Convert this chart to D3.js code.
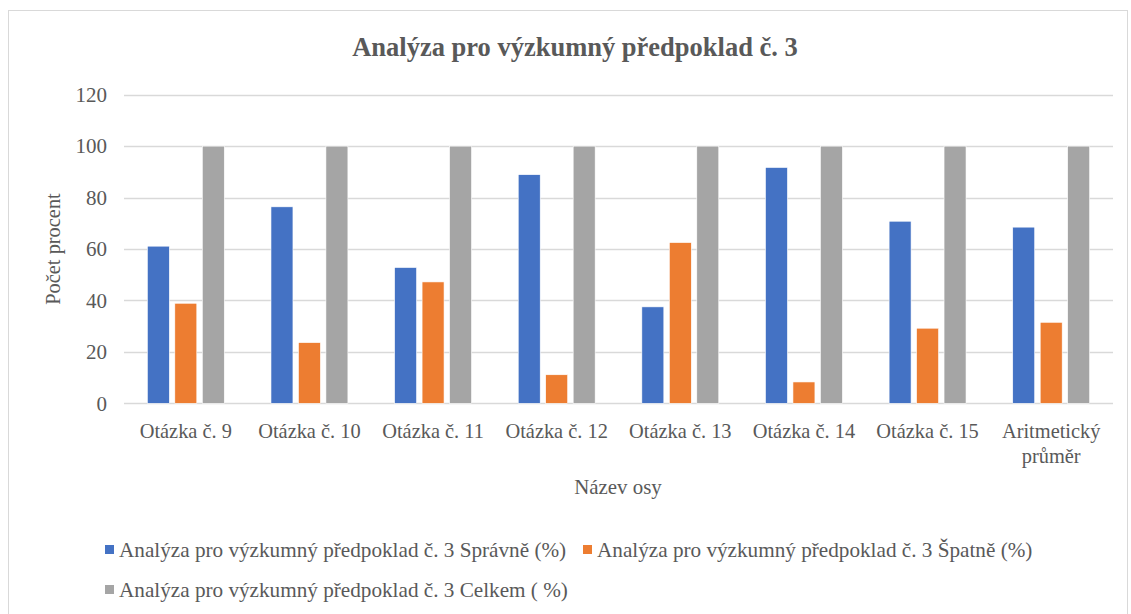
<!DOCTYPE html>
<html><head><meta charset="utf-8">
<script src="https://cdn.jsdelivr.net/npm/d3@7"></script>
<style>body{margin:0;background:#fff;} text{font-family:"Liberation Serif","Times New Roman",serif;fill:#595959;}</style>
</head><body><svg id="c" width="1131" height="614"></svg>
<script>
const categories = ["Otázka č. 9","Otázka č. 10","Otázka č. 11","Otázka č. 12","Otázka č. 13","Otázka č. 14","Otázka č. 15","Aritmetický průměr"];
const seriesNames = ["Analýza pro výzkumný předpoklad č. 3 Správně (%)","Analýza pro výzkumný předpoklad č. 3 Špatně (%)","Analýza pro výzkumný předpoklad č. 3 Celkem ( %)"];
const spravne = [61.1, 76.4, 52.8, 88.9, 37.5, 91.7, 70.8, 68.5];
const spatne = [38.9, 23.6, 47.2, 11.1, 62.5, 8.3, 29.2, 31.5];
const celkem = [100, 100, 100, 100, 100, 100, 100, 100];
const yTicks = [0,20,40,60,80,100,120];
const colors = ["#4472C4","#ED7D31","#A5A5A5"];

const svg = d3.select("#c");
svg.append("rect").attr("x",8.5).attr("y",10.5).attr("width",1119).attr("height",620).attr("fill","#fff").attr("stroke","#d9d9d9");

const L=124, R=1113, T=94.7, B=403.3;
const x = d3.scaleBand().domain(categories).range([L,R]);
const y = d3.scaleLinear().domain([0,120]).range([B,T]);
const seriesData = [spravne, spatne, celkem];
const inner = d3.scaleBand().domain([0,1,2]).range([0, x.bandwidth()]).paddingInner(0.2).paddingOuter(0.85);

svg.append("g").selectAll("line").data(yTicks).join("line")
  .attr("x1",L).attr("x2",R).attr("y1",d=>Math.round(y(d))+0.5).attr("y2",d=>Math.round(y(d))+0.5)
  .attr("stroke","#d9d9d9").attr("stroke-width",1.3);

const yAxis = d3.axisLeft(y).tickValues(yTicks).tickSize(0).tickPadding(17);
const gy = svg.append("g").attr("transform",`translate(${L},0)`).call(yAxis);
gy.select(".domain").remove();
gy.selectAll("text").style("font-family","Liberation Serif").style("font-size","21px").attr("fill","#595959");

seriesData.forEach((vals,si)=>{
  svg.append("g").selectAll("rect").data(vals).join("rect")
    .attr("x",(d,i)=>x(categories[i])+inner(si))
    .attr("width",inner.bandwidth())
    .attr("y",d=>y(d)).attr("height",d=>B-y(d))
    .attr("fill",colors[si]).attr("stroke","#fff").attr("stroke-width",0.6);
});

const xl = svg.append("g");
categories.forEach(c=>{
  const cx = x(c)+x.bandwidth()/2;
  const parts = c==="Aritmetický průměr" ? ["Aritmetický","průměr"] : [c];
  parts.forEach((p,k)=>{
    xl.append("text").attr("x",cx).attr("y",438+k*25).attr("text-anchor","middle").style("font-size","20.4px").text(p);
  });
});

svg.append("text").attr("x",575).attr("y",56).attr("text-anchor","middle").style("font-size","26.5px").style("font-weight","bold").text("Analýza pro výzkumný předpoklad č. 3");
svg.append("text").attr("x",618).attr("y",494).attr("text-anchor","middle").style("font-size","20.9px").text("Název osy");
svg.append("text").attr("transform","translate(60,249) rotate(-90)").attr("text-anchor","middle").style("font-size","20.4px").text("Počet procent");

const legPos = [[105,550],[583,550],[105,590]];
seriesNames.forEach((n,i)=>{
  const [lx,ly]=legPos[i];
  svg.append("rect").attr("x",lx).attr("y",ly-5).attr("width",9).attr("height",9).attr("fill",colors[i]);
  svg.append("text").attr("x",lx+14).attr("y",ly+7).style("font-size","21.2px").text(n);
});
</script></body></html>
